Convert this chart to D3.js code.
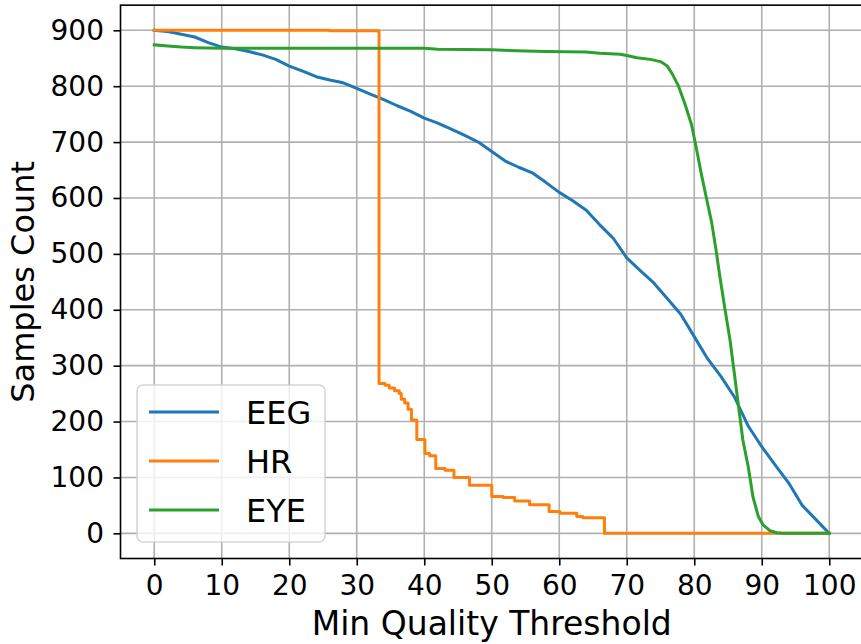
<!DOCTYPE html>
<html><head><meta charset="utf-8">
<script src="https://cdn.jsdelivr.net/npm/d3@7"></script>
<style>body{margin:0;background:#fff}</style>
</head><body><svg id="c" width="861" height="644"></svg>
<script>
// ---- data ----
const seriesNames = ["EEG", "HR", "EYE"];
const seriesColors = ["#1f77b4", "#ff7f0e", "#2ca02c"];

const eegX = [0,2,4,6,8,10,12,14,16,18,20,22,24,26,28,30,32,34,36,38,40,42,44,46,48,50,52,54,56,58,60,62,64,66,68,70,72,74,76,78,80,82,84,86,88,90,92,94,96,98,100];
const eegY = [900,898,893,888,878,870,867,862,856,848,836,827,817,811,806,796,786,776,765,755,743,734,723,712,700,683,666,655,645,628,610,595,578,552,528,493,470,448,420,392,352,312,280,243,192,155,122,90,50,25,0];

// HR is a step function: value holds from x until the next x
const hrX = [0,26,33.3,34.2,34.8,35.6,36.3,36.6,37.1,37.6,38.1,38.9,40.1,40.8,41.7,43.1,44.4,46.7,50.0,51.7,53.4,55.6,58.5,60.1,62.6,63.5,66.7,100];
const hrY = [900,899,268,265,260,255,250,240,233,222,203,168,143,139,116,113,100,86,66,64,58,51,39,36,30,28,0,0];

const eyeX = [0,2,4,6,10,20,30,40,42,50,55,58,64,66,69,70,71.5,73.5,75,76,76.7,77.6,78.6,79.6,80.3,81.1,81.8,82.6,83.3,83.8,84.5,85.3,85.9,86.5,87.2,88,88.7,89.5,90.2,91.2,92.2,93,100];
const eyeY = [874,872,870,869,868,868,868,868,866,865,863,862,861,859,857,855,851,848,844,836,823,802,769,731,690,640,600,555,501,459,405,346,290,233,167,119,65,30,15,5,1,0,0];

const xTicks = [0,10,20,30,40,50,60,70,80,90,100];
const yTicks = [0,100,200,300,400,500,600,700,800,900];
const xLabel = "Min Quality Threshold";
const yLabel = "Samples Count";

// ---- drawing ----
const svg = d3.select("#c");
const FONT = "DejaVu Sans, sans-serif";
const x = d3.scaleLinear().domain([-5,105]).range([120.5,863]);
const y = d3.scaleLinear().domain([-45,945]).range([558.5,5.15]);

// grid
const g = svg.append("g");
g.selectAll(".gx").data(xTicks).join("line")
  .attr("x1", d=>x(d)).attr("x2", d=>x(d)).attr("y1", y(945)).attr("y2", y(-45))
  .attr("stroke", "#b0b0b0").attr("stroke-width", 1.6);
g.selectAll(".gy").data(yTicks).join("line")
  .attr("y1", d=>y(d)).attr("y2", d=>y(d)).attr("x1", x(-5)).attr("x2", x(105))
  .attr("stroke", "#b0b0b0").attr("stroke-width", 1.6);

// lines
const mk = (xs, ys) => xs.map((v,i)=>[v, ys[i]]);
const data = [mk(eegX,eegY), mk(hrX,hrY), mk(eyeX,eyeY)];
const curves = [d3.curveLinear, d3.curveStepAfter, d3.curveLinear];
data.forEach((pts,i)=>{
  const line = d3.line().x(d=>x(d[0])).y(d=>y(d[1])).curve(curves[i]);
  svg.append("path").attr("d", line(pts)).attr("fill","none")
    .attr("stroke", seriesColors[i]).attr("stroke-width", 3)
    .attr("stroke-linejoin","round").attr("stroke-linecap","square");
});

// axes
const ax = svg.append("g").attr("transform", `translate(0,${y(-45)})`)
  .call(d3.axisBottom(x).tickValues(xTicks).tickSize(7).tickPadding(9.6).tickFormat(d3.format("d")));
const ay = svg.append("g").attr("transform", `translate(${x(-5)},0)`)
  .call(d3.axisLeft(y).tickValues(yTicks).tickSize(7).tickPadding(9.5).tickFormat(d3.format("d")));
[ax, ay].forEach(a=>{
  a.select(".domain").remove();
  a.selectAll("line").attr("stroke","#000").attr("stroke-width",1.6);
  a.selectAll("text").attr("font-family",FONT).attr("font-size",28).attr("fill","#000");
});

// spines
svg.append("rect").attr("x", x(-5)).attr("y", y(945))
  .attr("width", x(105)-x(-5)).attr("height", y(-45)-y(945))
  .attr("fill","none").attr("stroke","#000").attr("stroke-width",1.6);

// axis labels
svg.append("text").attr("x", (x(-5)+x(105))/2).attr("y", 635)
  .attr("text-anchor","middle").attr("font-family",FONT).attr("font-size",33).text(xLabel);
svg.append("text").attr("transform", `translate(34,${(y(945)+y(-45))/2}) rotate(-90)`)
  .attr("text-anchor","middle").attr("font-family",FONT).attr("font-size",32).text(yLabel);

// legend
const lg = svg.append("g");
lg.append("rect").attr("x",137).attr("y",385).attr("width",188).attr("height",157).attr("rx",6)
  .attr("fill","#fff").attr("fill-opacity",0.8).attr("stroke","#cccccc").attr("stroke-opacity",0.8).attr("stroke-width",1.6);
seriesNames.forEach((n,i)=>{
  const yy = 412 + i*49;
  lg.append("line").attr("x1",149).attr("x2",219).attr("y1",yy).attr("y2",yy)
    .attr("stroke",seriesColors[i]).attr("stroke-width",3);
  lg.append("text").attr("x",246).attr("y",yy+11.7).attr("font-family",FONT).attr("font-size",32).text(n);
});
</script></body></html>
